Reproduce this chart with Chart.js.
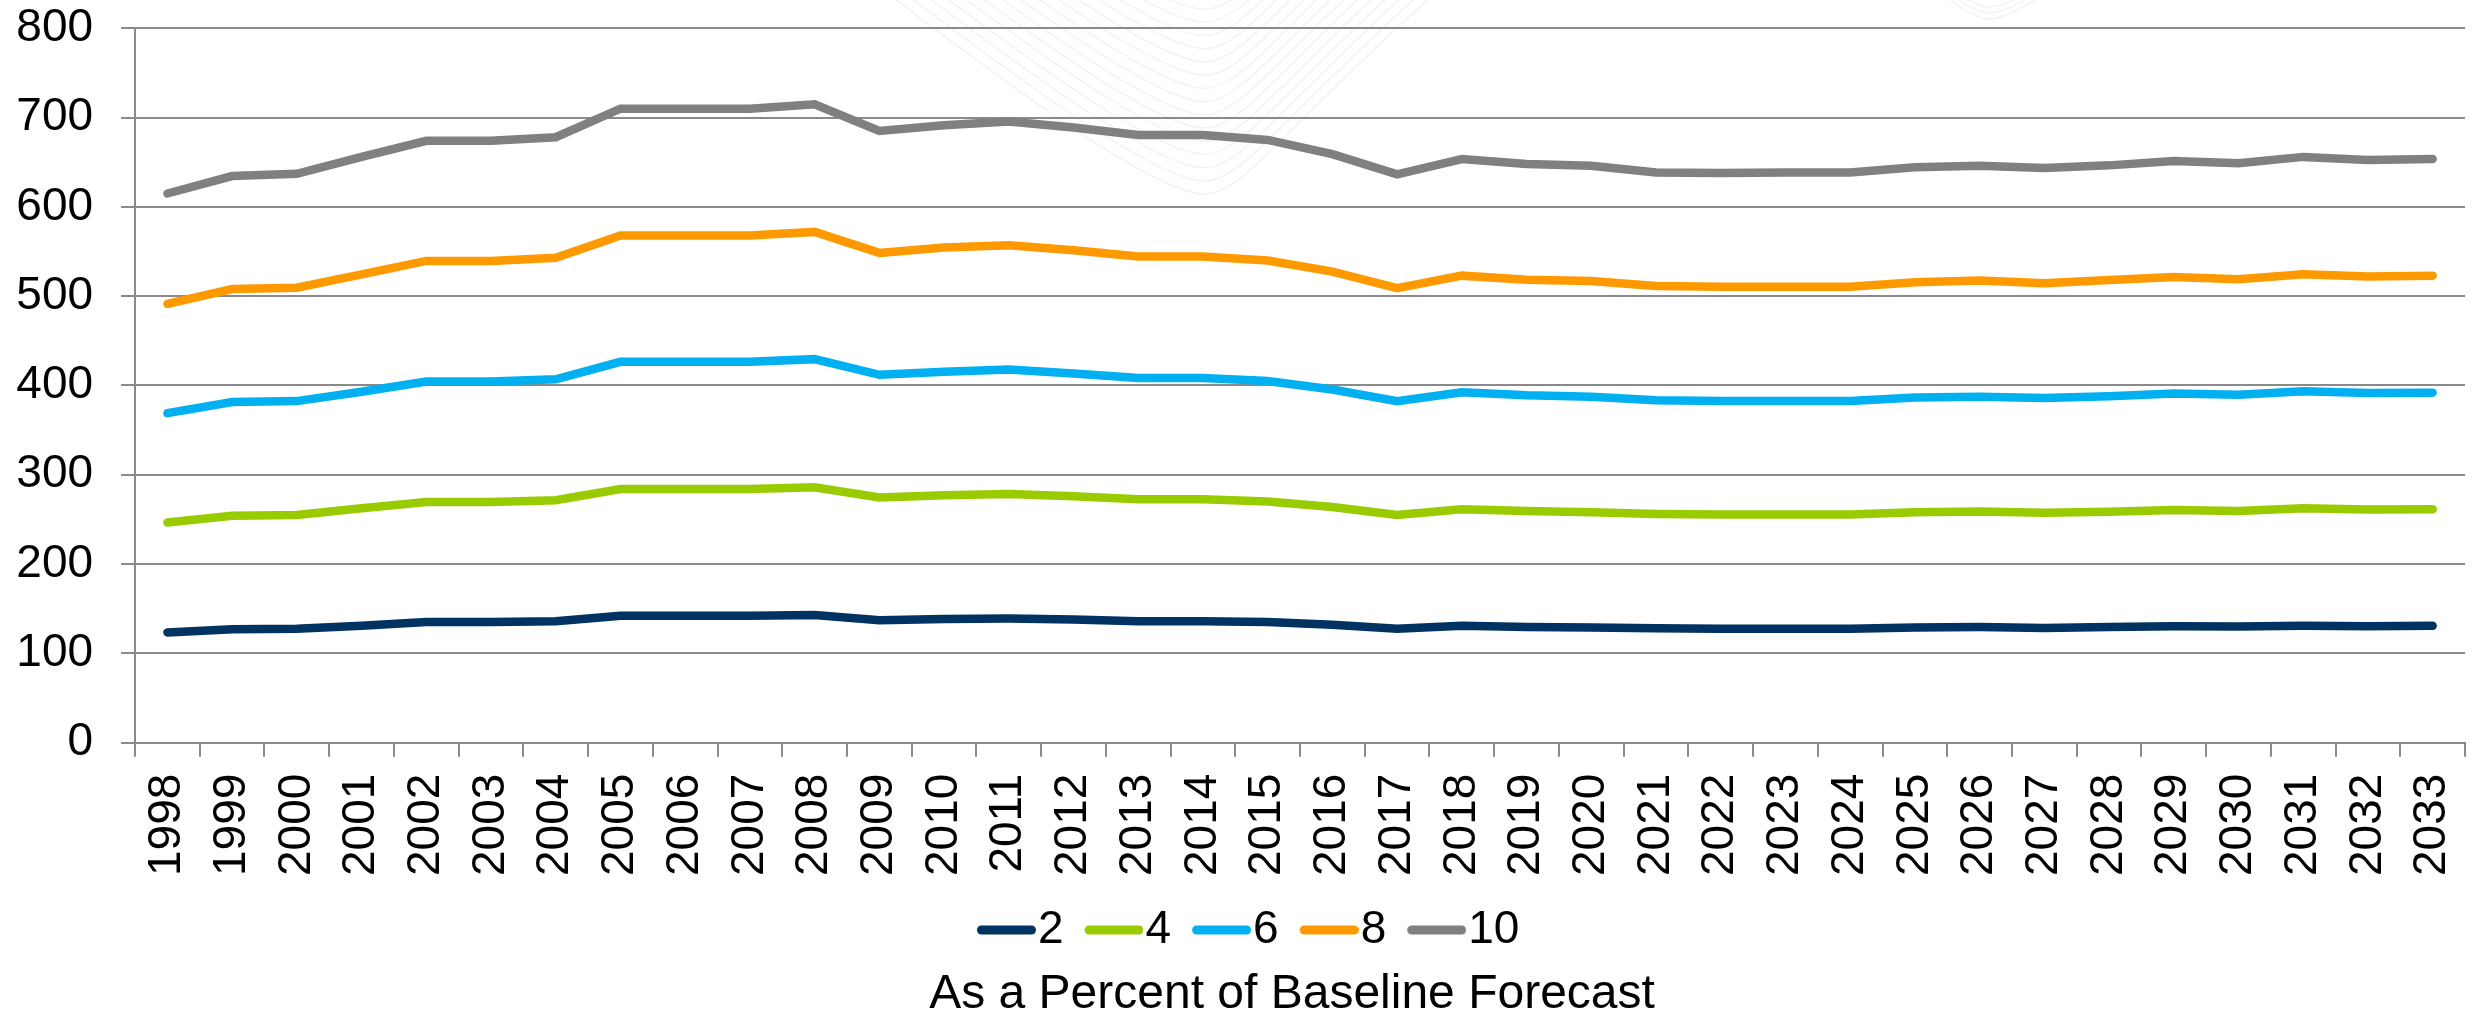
<!DOCTYPE html>
<html>
<head>
<meta charset="utf-8">
<script src="https://cdn.jsdelivr.net/npm/chart.js@4.4.1/dist/chart.umd.min.js"></script>
<style>
  html, body { margin: 0; padding: 0; background: #ffffff; }
  #wrap { width: 2474px; height: 1019px; position: relative; }
</style>
</head>
<body>
<div id="wrap"><canvas id="chart" width="2474" height="1019"></canvas></div>
<script>
// Years on the category axis
const years = ['1998','1999','2000','2001','2002','2003','2004','2005','2006','2007',
  '2008','2009','2010','2011','2012','2013','2014','2015','2016','2017',
  '2018','2019','2020','2021','2022','2023','2024','2025','2026','2027',
  '2028','2029','2030','2031','2032','2033'];

// Series names shown in the legend
const seriesNames = ['2', '4', '6', '8', '10'];

// Values per series (as a percent of baseline forecast)
const series2 = [123.5, 127, 127.5, 131, 135, 135, 136, 142, 142, 142,
  143, 137, 138.5, 139, 138, 136, 136, 135, 132, 127.5,
  131, 129.5, 129, 128, 127.5, 127.5, 127.5, 129, 129.5, 128.5,
  129.5, 130.5, 130, 131, 130.5, 131];
const series4 = [246.5, 254, 255, 262.5, 269.5, 269.5, 271.5, 284, 284, 284,
  286, 274.5, 277, 278.5, 276, 272.5, 272.5, 270, 264, 255,
  261.5, 259.5, 258, 256, 255.5, 255.5, 255.5, 258, 259, 257.5,
  258.5, 260.5, 259.5, 262.5, 261, 261.5];
const series6 = [369, 381.5, 382.5, 393, 404.5, 404.5, 407, 426.5, 426.5, 426.5,
  429.5, 412, 415.5, 418, 413.5, 408.5, 408.5, 405, 395.5, 382.5,
  392.5, 389, 387.5, 383.5, 382.5, 382.5, 382.5, 386.5, 387.5, 386,
  388, 391, 389.5, 393.5, 391.5, 392];
const series8 = [491.5, 508, 509.5, 524.5, 539.5, 539.5, 543, 568, 568, 568,
  572, 548.5, 554.5, 557, 551.5, 544.5, 544.5, 540, 527.5, 509,
  523, 518.5, 517, 511.5, 510.5, 510.5, 510.5, 515.5, 517.5, 514.5,
  518, 521.5, 519, 524.5, 522, 523];
const series10 = [615, 634.5, 637, 656, 674, 674, 678, 710, 710, 710,
  715, 685, 691.5, 695.5, 689, 680.5, 680.5, 675, 659, 636.5,
  653.5, 648, 646, 638.5, 638, 638.5, 638.5, 644.5, 646, 643.5,
  646.5, 651.5, 649, 656, 652.5, 653.5];

const seriesColors = ['#003262', '#99cc00', '#00b0f0', '#ff9900', '#808080'];
const allSeries = [series2, series4, series6, series8, series10];

const FONT = '"Liberation Sans", Arial, Helvetica, sans-serif';
const GRID = '#8a8a8a';

// Short rounded line used as the legend marker (offset right inside its canvas)
function makeMarker(color) {
  const c = document.createElement('canvas');
  c.width = 87; c.height = 12;
  const g = c.getContext('2d');
  g.strokeStyle = color;
  g.lineWidth = 9;
  g.lineCap = 'round';
  g.beginPath();
  g.moveTo(32.5, 6);
  g.lineTo(82.5, 6);
  g.stroke();
  return c;
}
const markers = seriesColors.map(makeMarker);

// Faint background ornament behind the plot
const ornament = {
  id: 'ornament',
  beforeDraw(chart) {
    const ctx = chart.ctx;
    ctx.save();
    ctx.strokeStyle = 'rgba(0,0,0,0.05)';
    ctx.lineWidth = 1.5;
    for (let k = 0; k < 16; k++) {
      const dy = -13.2 * k;
      ctx.beginPath();
      ctx.moveTo(870, -20 + dy);
      ctx.bezierCurveTo(1040, 110 + dy, 1160, 194 + dy, 1205, 194 + dy);
      ctx.bezierCurveTo(1245, 194 + dy, 1290, 120 + dy, 1450, -20 + dy);
      ctx.stroke();
    }
    for (let k = 0; k < 3; k++) {
      const dy = -6 * k;
      ctx.beginPath();
      ctx.moveTo(1940, -8 + dy);
      ctx.quadraticCurveTo(1975, 20 + dy, 1990, 19 + dy);
      ctx.quadraticCurveTo(2010, 18 + dy, 2050, -10 + dy);
      ctx.stroke();
    }
    ctx.restore();
  },
  // nudge the legend row and the caption sideways
  afterLayout(chart) {
    if (chart.legend) { chart.legend.left += 18; chart.legend.right += 18; }
    if (chart.titleBlock) { chart.titleBlock.left -= 8; chart.titleBlock.right -= 8; }
  }
};

Chart.defaults.font.family = FONT;
Chart.defaults.color = '#000000';

new Chart(document.getElementById('chart'), {
  type: 'line',
  data: {
    labels: years,
    datasets: allSeries.map((vals, i) => ({
      label: seriesNames[i],
      data: vals,
      borderColor: seriesColors[i],
      backgroundColor: seriesColors[i],
      borderWidth: 8.5,
      borderCapStyle: 'round',
      pointRadius: 0,
      pointHoverRadius: 0,
      tension: 0,
      fill: false
    }))
  },
  options: {
    responsive: false,
    animation: false,
    devicePixelRatio: 1,
    layout: { padding: { left: -11.7, right: 9, top: 0, bottom: 0 } },
    scales: {
      x: {
        type: 'category',
        offset: true,
        afterFit(scale) {
          scale.paddingLeft = 0;
          scale.paddingRight = 0;
        },
        grid: {
          offset: true,
          drawOnChartArea: false,
          drawTicks: true,
          tickLength: 14,
          color: GRID,
          lineWidth: 2
        },
        border: { display: true, color: GRID, width: 2 },
        ticks: {
          autoSkip: false,
          minRotation: 90,
          maxRotation: 90,
          padding: 17,
          color: '#000000',
          font: { size: 46 }
        }
      },
      y: {
        min: 0,
        max: 800,
        afterFit(scale) {
          scale.paddingTop = 28.3;
          scale.paddingBottom = 0;
        },
        grid: {
          color: GRID,
          lineWidth: 2,
          drawTicks: true,
          tickLength: 14
        },
        border: { display: true, color: GRID, width: 2 },
        ticks: {
          stepSize: 100,
          padding: 28,
          color: '#000000',
          font: { size: 46 }
        }
      }
    },
    plugins: {
      legend: {
        display: true,
        position: 'bottom',
        labels: {
          usePointStyle: true,
          pointStyleWidth: 45,
          padding: 14,
          color: '#000000',
          font: { size: 46 },
          generateLabels(chart) {
            const items = Chart.defaults.plugins.legend.labels.generateLabels(chart);
            items.forEach((it, i) => { it.pointStyle = markers[i]; });
            return items;
          }
        }
      },
      title: {
        display: true,
        position: 'bottom',
        fullSize: false,
        text: 'As a Percent of Baseline Forecast',
        color: '#000000',
        font: { size: 48, weight: 'normal', lineHeight: 1 },
        padding: { top: 8, bottom: 0 }
      },
      tooltip: { enabled: false }
    }
  },
  plugins: [ornament]
});
</script>
</body>
</html>
